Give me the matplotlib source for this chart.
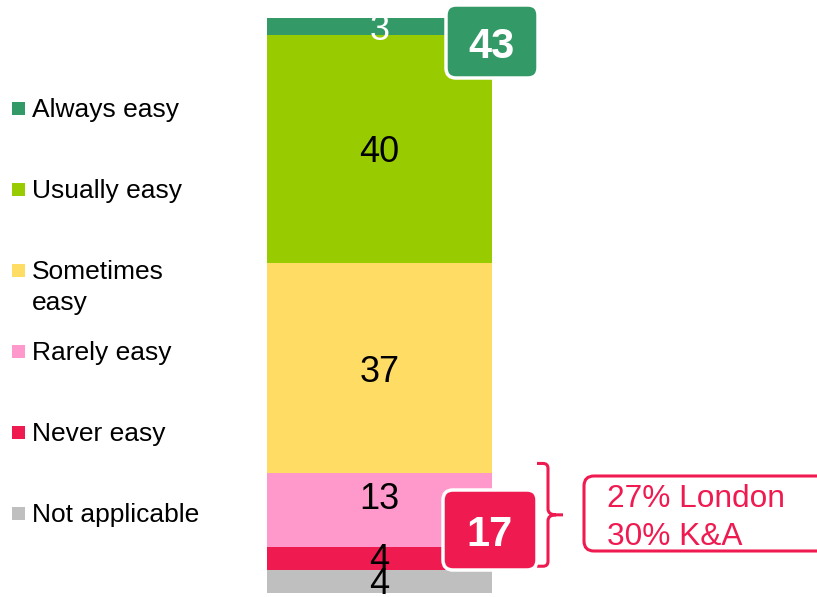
import matplotlib.pyplot as plt
from matplotlib.patches import FancyBboxPatch, Rectangle, PathPatch
from matplotlib.path import Path

plt.rcParams['font.family'] = ['Liberation Sans', 'DejaVu Sans']

# stacked from the bottom up
categories = ['Not applicable', 'Never easy', 'Rarely easy', 'Sometimes\neasy', 'Usually easy', 'Always easy']
values = [4, 4, 13, 37, 40, 3]
colors = ['#BFBFBF', '#EE1A50', '#FF99CC', '#FFDC64', '#99CC00', '#339966']
label_colors = ['black', 'black', 'black', 'black', 'black', 'white']
notes = ['27% London', '30% K&A']

easy_total = values[4] + values[5]
hard_total = values[1] + values[2]

fig = plt.figure(figsize=(8.17, 5.97), dpi=100)
W, H = 817, 597

ax = fig.add_axes([267 / W, 4 / H, 225 / W, 575 / H])
ax.set_xlim(-0.5, 0.5)
ax.set_ylim(0, sum(values))
ax.axis('off')

# nudge a couple of labels up (points) so they clear the callout
lift = [1, 2, 11, 0, 0, 0]

bottom = 0
for v, c, tc, dy in zip(values, colors, label_colors, lift):
    ax.bar(0, v, width=1, bottom=bottom, color=c, edgecolor='none')
    ax.annotate(str(v), (0, bottom + v / 2), xytext=(0, dy), textcoords='offset points',
                ha='center', va='center_baseline', fontsize=26, color=tc, annotation_clip=False)
    bottom += v

# overlay in pixel units for the legend and callouts
ov = fig.add_axes([0, 0, 1, 1])
ov.set_xlim(0, W)
ov.set_ylim(H, 0)
ov.axis('off')


def ypix(v):
    return H - ax.transData.transform((0, v))[1]


# legend, top entry first
for i, (name, c) in enumerate(zip(categories[::-1], colors[::-1])):
    base = 117 + 81 * i
    ov.add_patch(Rectangle((12, base - 15), 13, 13, color=c, lw=0))
    for j, ln in enumerate(name.split('\n')):
        ov.text(32, base + 31 * j, ln, fontsize=19, va='baseline', ha='left', color='black')


def callout(x0, y0, w, h, fill, num):
    ov.add_patch(FancyBboxPatch((x0, y0), w, h, boxstyle='round,pad=0,rounding_size=10',
                                fc=fill, ec='white', lw=2.5, zorder=5))
    ov.text(x0 + w / 2, y0 + h / 2 + 1, str(num), ha='center', va='center_baseline',
            fontsize=30, fontweight='bold', color='white', zorder=6)


callout(446, 5, 92, 73, colors[5], easy_total)
callout(443, 490, 94, 80, colors[1], hard_total)

# bracket spanning the rarely / never segments
top = ypix(values[0] + values[1] + values[2]) - 10
bot = ypix(values[0]) - 4
mid = (top + bot) / 2
verts = [(537, top), (543, top), (548, top), (548, top + 5),
         (548, mid - 6), (548, mid), (556, mid), (563, mid),
         (556, mid), (548, mid), (548, mid + 6),
         (548, bot - 5), (548, bot), (543, bot), (537, bot)]
codes = [Path.MOVETO, Path.LINETO, Path.CURVE3, Path.CURVE3,
         Path.LINETO, Path.CURVE3, Path.CURVE3, Path.LINETO,
         Path.MOVETO, Path.CURVE3, Path.CURVE3,
         Path.LINETO, Path.CURVE3, Path.CURVE3, Path.LINETO]
ov.add_patch(PathPatch(Path(verts, codes), fc='none', ec=colors[1], lw=2.2, capstyle='butt'))

ov.add_patch(FancyBboxPatch((584, 476), 260, 75, boxstyle='round,pad=0,rounding_size=10',
                            fc='white', ec=colors[1], lw=2.2))
for j, note in enumerate(notes):
    ov.text(607, 507 + 38 * j, note, fontsize=22.8, color=colors[1], ha='left', va='baseline')

fig.savefig('out.png', dpi=100)
